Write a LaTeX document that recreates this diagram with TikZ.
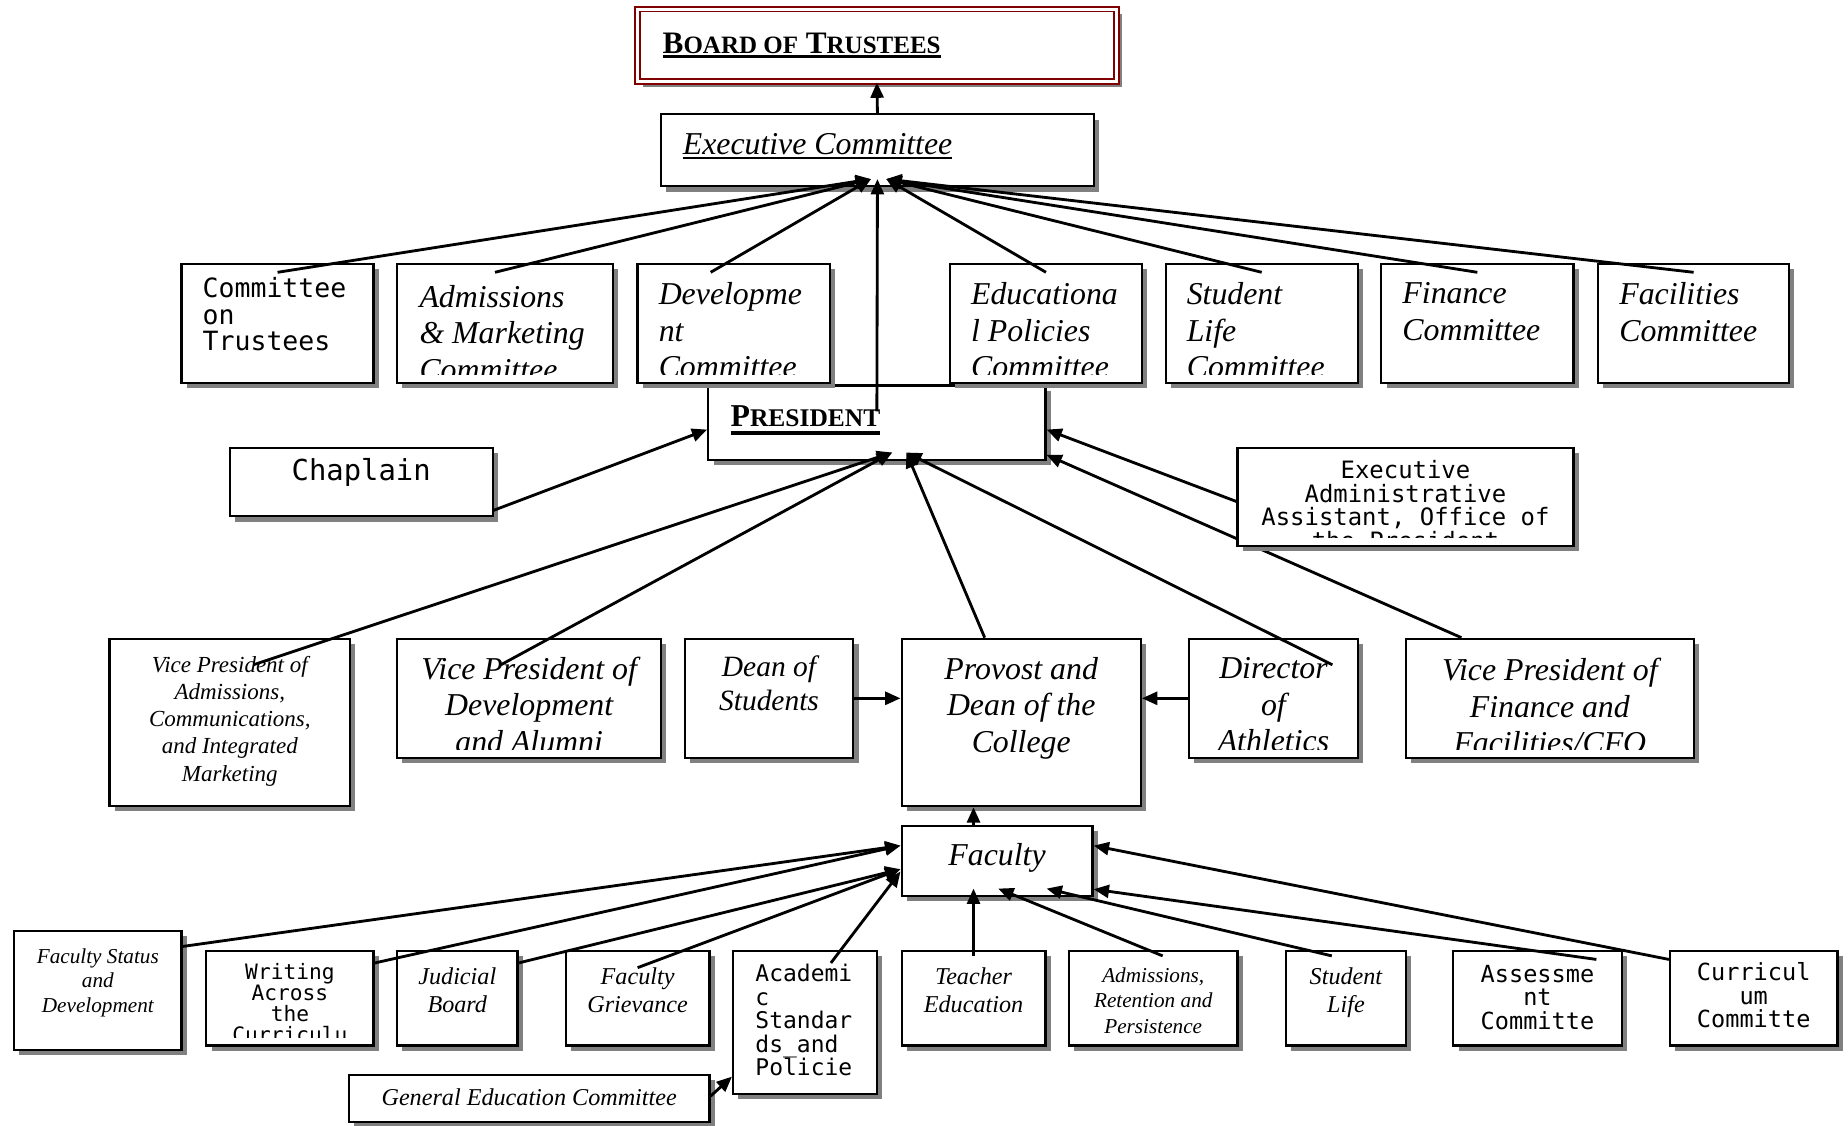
\documentclass[tikz,border=0pt]{standalone}
\usepackage{fontspec}
\setmainfont{Liberation Serif}
\newfontfamily\monoschrift{DejaVu Sans Mono}
\usetikzlibrary{arrows.meta,shadows,fit}
\definecolor{bordeaux}{RGB}{128,0,0}

% Kapitaelchen (falsch) und dicke Unterstreichung
\newcommand{\kap}[2][21.2]{{\fontsize{#1}{#1}\selectfont #2}}
\newcommand{\unterstr}[3]{\setbox0\hbox{#3}\rlap{\rule[-#1]{\wd0}{#2}}\box0}

% Kasten mit abgeschnittenem Text: Name, Ecke, Ecke, Textversatz ab Ecke oben links, Textstil, Text
\newcommand{\kasten}[7][]{%
    \node[kasten, #1, fit={#3 #4}, path picture={
        \clip ([shift={(3pt,7pt)}]path picture bounding box.south west)
            rectangle ([shift={(-3pt,-3pt)}]path picture bounding box.north east);
        \node[innen, #6] at ([shift={#5}]path picture bounding box.north west) {#7};
    }] (#2) {};%
}

\begin{document}
\begin{tikzpicture}[x=1pt, y=-1pt,
    kasten/.style={draw, line width=1.9pt, fill=white, inner sep=0pt,
        drop shadow={shadow xshift=4.5pt, shadow yshift=-4.5pt, fill=black!50, opacity=1}},
    innen/.style={minimum width=0pt, minimum height=0pt, text width=, text height=, text depth=, inner sep=0pt},
    txt/.style={anchor=north, align=center},
    txtl/.style={anchor=north west, align=left},
    kursiv/.style 2 args={font=\itshape\fontsize{#1}{#2}\selectfont},
    fest/.style 2 args={font=\monoschrift\fontsize{#1}{#2}\selectfont},
    pfeil/.style={-{Triangle[length=13pt,width=11pt]}, line width=2.4pt}]

    \useasboundingbox (0,0) rectangle (1568,955);

    % Vorstand und Exekutivkomitee
    \kasten[draw=bordeaux, double=white, double distance=2.4pt, line width=1.6pt]{board}{(540.8,7.8)}{(947.2,69.2)}{(20.7,37.2)}
        {anchor=base west, font=\bfseries\fontsize{26.5}{26.5}\selectfont}
        {\unterstr{4pt}{2pt}{B\kap{OARD OF} T\kap{RUSTEES}}}
    \kasten{exec}{(561,97)}{(928,158)}{(17.4,33.7)}
        {anchor=base west, font=\itshape\fontsize{27}{27}\selectfont}
        {\unterstr{4pt}{1.7pt}{Executive Committee}}

    % Praesident (unter den Komitees)
    \kasten{pres}{(601,327)}{(887,390)}{(18,35)}
        {anchor=base west, font=\bfseries\fontsize{27}{27}\selectfont}
        {\unterstr{7pt}{3pt}{P\kap[21.6]{RESIDENT}}}

    % Komitees
    \kasten{cot}{(154,224)}{(317,325)}{(17,10.5)}{txtl, fest={22.5}{22.5}}{Committee\\on\\Trustees}
    \kasten{adm}{(337,224)}{(520,325)}{(18,17)}{txtl, kursiv={27}{31}}{Admissions\\\& Marketing\\Committee}
    \kasten{dev}{(541,224)}{(704,325)}{(17,15)}{txtl, kursiv={27}{31}}{Developme\\nt\\Committee}
    \kasten{edu}{(806,224)}{(969,325)}{(17,15)}{txtl, kursiv={27}{31}}{Educationa\\l Policies\\Committee}
    \kasten{slc}{(989,224)}{(1152,325)}{(17,15)}{txtl, kursiv={27}{31}}{Student\\Life\\Committee}
    \kasten{fin}{(1172,224)}{(1335,325)}{(17,15)}{txtl, kursiv={27}{31}}{Finance\\Committee}
    \kasten{facil}{(1356,224)}{(1518,325)}{(17,15)}{txtl, kursiv={27}{31}}{Facilities\\Committee}

    % Stab
    \kasten{chap}{(195,380)}{(418,438)}{(111.5,28)}{txt, anchor=base, fest={24.5}{24.5}}{Chaplain}
    \kasten{vpf}{(1193,542)}{(1437,643)}{(122,15.5)}{txt, kursiv={27}{31}}{Vice President of\\Finance and\\Facilities/CFO}
    \draw[pfeil] ([xshift=-75pt]vpf.north) -- ([yshift=5pt]pres.south east);
    \kasten{eaa}{(1050,380)}{(1335,463)}{(142.5,9.6)}{txt, fest={20.3}{20}}{Executive\\Administrative\\Assistant, Office of\\the President}

    % Vizepraesidenten und Dekane
    \kasten{vpa}{(93,542)}{(297,684)}{(102,14)}{txt, kursiv={19.5}{23}}{Vice President of\\Admissions,\\Communications,\\and Integrated\\Marketing}
    \kasten{vpd}{(337,542)}{(561,643)}{(112,14.5)}{txt, kursiv={27}{31}}{Vice President of\\Development\\and Alumni}
    \kasten{dos}{(581,542)}{(724,643)}{(71.5,13.5)}{txt, kursiv={25}{29}}{Dean of\\Students}
    \kasten{prov}{(765,542)}{(968,684)}{(101.5,14.5)}{txt, kursiv={27}{31}}{Provost and\\Dean of the\\College}
    \kasten{dir}{(1009,542)}{(1152,643)}{(71.5,15)}{txt, kursiv={27}{31}}{Director\\of\\Athletics}

    % Fakultaet und Ausschuesse
    \kasten{faculty}{(765,701)}{(927,760)}{(81,33)}{txt, anchor=base, kursiv={27}{27}}{Faculty}
    \kasten{fsd}{(12,790)}{(154,891)}{(71,13.7)}{txt, kursiv={18}{21}}{Faculty Status\\and\\Development}
    \kasten{wac}{(175,807)}{(317,887)}{(71,9.3)}{txt, fest={18}{18}}{Writing\\Across\\the\\Curriculu}
    \kasten{jud}{(337,807)}{(439,887)}{(51,13)}{txt, kursiv={20.5}{24}}{Judicial\\Board}
    \kasten{grv}{(480,807)}{(602,887)}{(61,13)}{txt, kursiv={20.5}{24}}{Faculty\\Grievance}
    \kasten{asp}{(622,807)}{(744,928)}{(18,10)}{txtl, fest={19.5}{20}}{Academi\\c\\Standar\\ds\_and\\Policie}
    \kasten{ted}{(765,807)}{(887,887)}{(61,13)}{txt, kursiv={20.5}{24}}{Teacher\\Education}
    \kasten{arp}{(907,807)}{(1050,887)}{(71.5,13.2)}{txt, kursiv={18}{21.5}}{Admissions,\\Retention and\\Persistence}
    \kasten{stl}{(1091,807)}{(1193,887)}{(51,13)}{txt, kursiv={20.5}{24}}{Student\\Life}
    \kasten{asm}{(1233,807)}{(1376,887)}{(71.5,11)}{txt, fest={20}{20}}{Assessme\\nt\\Committe}
    \kasten{cur}{(1417,807)}{(1559,887)}{(71,8.8)}{txt, fest={20}{20}}{Curricul\\um\\Committe}
    \kasten{gec}{(296,912)}{(602,952)}{(153,26)}{txt, anchor=base, kursiv={20.5}{20.5}}{General Education Committee}

    % Pfeile nach oben
    \draw[pfeil] (exec.north) -- (board.south);
    \draw[pfeil] ([yshift=-8pt]cot.north) -- ([xshift=-5.5pt,yshift=7pt]exec.south);
    \draw[pfeil] ([xshift=-8.5pt,yshift=-8pt]adm.north) -- ([xshift=-5.5pt,yshift=7pt]exec.south);
    \draw[pfeil] ([xshift=-19.5pt,yshift=-8pt]dev.north) -- ([xshift=-5.5pt,yshift=7pt]exec.south);
    \draw[pfeil] ([yshift=-8pt]edu.north) -- ([xshift=7.5pt,yshift=7pt]exec.south);
    \draw[pfeil] ([yshift=-8pt]slc.north) -- ([xshift=7.5pt,yshift=7pt]exec.south);
    \draw[pfeil] ([yshift=-8pt]fin.north) -- ([xshift=7.5pt,yshift=7pt]exec.south);
    \draw[pfeil] ([yshift=-8pt]facil.north) -- ([xshift=7.5pt,yshift=7pt]exec.south);
    \draw[pfeil] ([yshift=-23pt]pres.north) -- ([yshift=7pt]exec.south);

    % Pfeile zum Praesidenten
    \draw[pfeil] ([yshift=6pt]chap.south east) -- ([yshift=-6pt]pres.west);
    \draw[pfeil] ([yshift=-4pt]eaa.west) -- ([yshift=-6pt]pres.east);
    \draw[pfeil] ([xshift=20pt,yshift=-23pt]vpa.north) -- ([xshift=13pt,yshift=7pt]pres.south);
    \draw[pfeil] ([xshift=-24pt,yshift=-23pt]vpd.north) -- ([xshift=13pt,yshift=7pt]pres.south);
    \draw[pfeil] ([xshift=-31pt]prov.north) -- ([xshift=25pt,yshift=7pt]pres.south);
    \draw[pfeil] ([xshift=50pt,yshift=-23pt]dir.north) -- ([xshift=25pt,yshift=7pt]pres.south);

    % Pfeile zum Provost
    \draw[pfeil] (dos.east) -- (dos.east -| prov.west);
    \draw[pfeil] (dir.west) -- (dir.west -| prov.east);
    \draw[pfeil] ([xshift=-20pt]faculty.north) -- ([xshift=-20pt]faculty.north |- prov.south);

    % Pfeile zur Fakultaet
    \draw[pfeil] ([yshift=-14pt]fsd.north east) -- ([yshift=13pt]faculty.west);
    \draw[pfeil] ([yshift=-11pt]wac.north east) -- ([yshift=13pt]faculty.west);
    \draw[pfeil] ([yshift=-11pt]jud.north east) -- ([yshift=-7pt]faculty.west);
    \draw[pfeil] ([yshift=-15pt]grv.north) -- ([yshift=-7pt]faculty.west);
    \draw[pfeil] ([xshift=22pt,yshift=-11pt]asp.north) -- ([yshift=-9pt]faculty.west);
    \draw[pfeil] ([yshift=-5pt]ted.north) -- ([xshift=-20pt,yshift=7pt]faculty.south);
    \draw[pfeil] ([xshift=8pt,yshift=-5pt]arp.north) -- ([xshift=1pt,yshift=7pt]faculty.south);
    \draw[pfeil] ([xshift=-12pt,yshift=-5pt]stl.north) -- ([xshift=42pt,yshift=7pt]faculty.south);
    \draw[pfeil] ([xshift=50pt,yshift=-8pt]asm.north) -- ([yshift=-24pt]faculty.east);
    \draw[pfeil] ([yshift=-8pt]cur.north west) -- ([yshift=13pt]faculty.east);
    \draw[pfeil] ([yshift=2pt]gec.east) -- ([yshift=-46pt]asp.west);

\end{tikzpicture}
\end{document}
